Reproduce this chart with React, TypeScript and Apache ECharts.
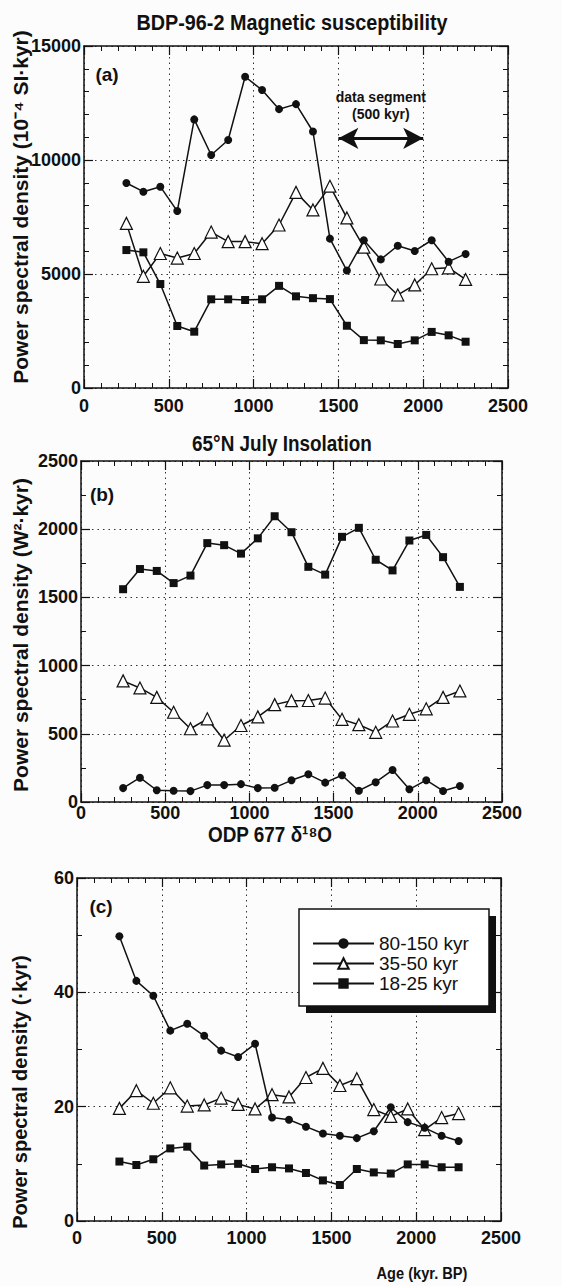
import { useEffect, useRef } from 'react';
import * as echarts from 'echarts';

const FONT = '"Liberation Sans", Arial, Helvetica, sans-serif';
const INK = '#111';

// Centre ages of the spectral windows (kyr BP)
const ages = [250, 350, 450, 550, 650, 750, 850, 950, 1050, 1150, 1250, 1350, 1450, 1550, 1650, 1750, 1850, 1950, 2050, 2150, 2250];

const bandNames = ['80-150 kyr', '35-50 kyr', '18-25 kyr'];

// (a) BDP-96-2 magnetic susceptibility
const susc80_150 = [8990, 8610, 8830, 7760, 11780, 10220, 10880, 13650, 13070, 12230, 12450, 11250, 6550, 5150, 6480, 5640, 6240, 6010, 6480, 5540, 5880];
const susc35_50 = [7220, 4900, 5900, 5700, 5900, 6840, 6420, 6420, 6330, 7150, 8580, 7810, 8850, 7460, 6180, 4780, 4080, 4520, 5230, 5270, 4760];
const susc18_25 = [6050, 5950, 4560, 2720, 2470, 3890, 3890, 3860, 3890, 4480, 4020, 3940, 3900, 2730, 2100, 2090, 1930, 2090, 2460, 2310, 2030];

// (b) 65N July insolation
const ins80_150 = [102, 178, 86, 82, 80, 124, 124, 131, 102, 105, 159, 203, 142, 196, 83, 145, 234, 93, 160, 81, 117];
const ins35_50 = [888, 836, 767, 658, 537, 610, 453, 561, 624, 714, 743, 744, 762, 606, 567, 511, 594, 643, 683, 767, 814];
const ins18_25 = [1560, 1708, 1694, 1605, 1660, 1898, 1883, 1821, 1933, 2095, 1978, 1724, 1667, 1944, 2010, 1776, 1698, 1917, 1958, 1795, 1577];

// (c) ODP 677 oxygen isotopes
const o18_80_150 = [49.8, 42.0, 39.4, 33.3, 34.5, 32.4, 29.8, 28.7, 31.0, 18.1, 17.7, 16.5, 15.3, 14.9, 14.5, 15.7, 19.9, 17.3, 16.3, 14.9, 14.0];
const o18_35_50 = [19.7, 22.8, 20.6, 23.3, 20.1, 20.3, 21.5, 20.4, 19.6, 22.1, 21.7, 25.1, 26.7, 23.7, 24.9, 19.5, 18.3, 19.6, 16.0, 18.1, 18.8];
const o18_18_25 = [10.4, 9.8, 10.8, 12.7, 13.0, 9.7, 9.9, 10.0, 9.1, 9.4, 9.2, 8.4, 7.1, 6.3, 9.1, 8.5, 8.3, 9.9, 9.9, 9.4, 9.4];

// Length of one analysed data segment, drawn as a double arrow in (a)
const segmentSpan = [1500, 2000];
const segmentLevel = 10950;

const plain = (v: number) => String(v);
const labelStyle = { color: INK, fontFamily: FONT, fontSize: 18, fontWeight: 'bold' as const, formatter: plain };

function xAxisPair(gridIndex: number, labelMargin: number) {
  const base = {
    type: 'value' as const,
    gridIndex,
    min: 0,
    max: 2500,
    interval: 500,
    axisLine: { show: true, onZero: false, lineStyle: { color: INK, width: 1.5 } },
    axisTick: { show: true, inside: true, length: 9, lineStyle: { color: INK, width: 1.2 } },
    minorTick: { show: true, splitNumber: 5, length: 5, lineStyle: { color: INK, width: 1 } },
  };
  return [
    {
      ...base,
      position: 'bottom' as const,
      axisLabel: { ...labelStyle, margin: labelMargin },
      splitLine: { show: true, lineStyle: { color: '#333', width: 1, type: [1.5, 4] } },
    },
    {
      ...base,
      position: 'top' as const,
      axisLabel: { show: false },
      splitLine: { show: false },
    },
  ];
}

function yAxisPair(gridIndex: number, max: number, interval: number, minorSplit: number) {
  const base = {
    type: 'value' as const,
    gridIndex,
    min: 0,
    max,
    interval,
    axisLine: { show: true, onZero: false, lineStyle: { color: INK, width: 1.5 } },
    axisTick: { show: true, inside: true, length: 9, lineStyle: { color: INK, width: 1.2 } },
    minorTick: { show: true, splitNumber: minorSplit, length: 5, lineStyle: { color: INK, width: 1 } },
  };
  return [
    {
      ...base,
      position: 'left' as const,
      axisLabel: { ...labelStyle, margin: 3 },
      splitLine: { show: true, lineStyle: { color: '#333', width: 1, type: [1.5, 4] } },
    },
    {
      ...base,
      position: 'right' as const,
      axisLabel: { show: false },
      splitLine: { show: false },
    },
  ];
}

function bandSeries(axisIndex: number, values: number[][]) {
  const styles = [
    { symbol: 'circle', symbolSize: 8, itemStyle: { color: INK } },
    { symbol: 'triangle', symbolSize: 12, itemStyle: { color: '#fff', borderColor: INK, borderWidth: 1.2 } },
    { symbol: 'rect', symbolSize: 8, itemStyle: { color: INK } },
  ];
  return values.map((vals, k) => ({
    type: 'line' as const,
    name: bandNames[k],
    xAxisIndex: axisIndex,
    yAxisIndex: axisIndex,
    data: ages.map((a, i) => [a, vals[i]]),
    lineStyle: { color: INK, width: 1.5 },
    ...styles[k],
    z: k === 1 ? 3 : 4,
  }));
}

function textEl(text: string, x: number, y: number, size: number, opts: Record<string, unknown> = {}) {
  return {
    type: 'text' as const,
    x,
    y,
    z: 10,
    ...opts,
    style: {
      text,
      fill: INK,
      fontFamily: FONT,
      fontSize: size,
      fontWeight: 'bold',
      align: 'center',
      verticalAlign: 'middle',
    },
  };
}

export default function App() {
  const ref = useRef<HTMLDivElement>(null);

  useEffect(() => {
    if (!ref.current) return;
    const chart = echarts.init(ref.current, undefined, { renderer: 'svg' });

    const seriesA = bandSeries(0, [susc80_150, susc35_50, susc18_25]);
    (seriesA[0] as any).markLine = {
      silent: true,
      symbol: ['arrow', 'arrow'],
      symbolSize: [16, 20],
      lineStyle: { color: INK, width: 3, type: 'solid' },
      label: {
        show: true,
        position: 'middle',
        formatter: 'data segment\n(500 kyr)',
        color: INK,
        fontFamily: FONT,
        fontSize: 14,
        fontWeight: 'bold',
        lineHeight: 17,
        distance: 16,
      },
      data: [[{ coord: [segmentSpan[0], segmentLevel] }, { coord: [segmentSpan[1], segmentLevel] }]],
    };

    const condensed = { scaleX: 0.86 };

    chart.setOption({
      animation: false,
      backgroundColor: '#fcfcfc',
      grid: [
        { left: 84, top: 46, width: 424, height: 342, show: false },
        { left: 81, top: 461, width: 421, height: 341, show: false },
        { left: 77, top: 878, width: 424, height: 343, show: false },
      ],
      xAxis: [...xAxisPair(0, 9), ...xAxisPair(1, 2), ...xAxisPair(2, 8)],
      yAxis: [...yAxisPair(0, 15000, 5000, 5), ...yAxisPair(1, 2500, 500, 2), ...yAxisPair(2, 60, 20, 2)],
      legend: {
        data: bandNames,
        orient: 'vertical',
        left: 307,
        top: 929,
        itemWidth: 61,
        itemHeight: 13,
        itemGap: 1,
        selectedMode: false,
        textStyle: { color: INK, fontFamily: FONT, fontSize: 19 },
        z: 12,
      },
      graphic: [
        // legend frame with its solid drop shadow
        { type: 'rect', z: 8, shape: { x: 306, y: 916, width: 190, height: 97 }, style: { fill: INK } },
        { type: 'rect', z: 9, shape: { x: 299, y: 909, width: 190, height: 97 }, style: { fill: '#fff', stroke: INK, lineWidth: 1.5 } },
        textEl('BDP-96-2 Magnetic susceptibility', 292, 22, 22, { scaleX: 0.9 }),
        textEl('65°N July Insolation', 282, 443, 22, condensed),
        textEl('ODP 677 δ¹⁸O', 270, 834, 22, condensed),
        textEl('(a)', 107, 74, 19),
        textEl('(b)', 102, 494, 19),
        textEl('(c)', 101, 906, 19),
        textEl('Power spectral density (10⁻⁴ SI·kyr)', 20, 207, 21, { rotation: Math.PI / 2 }),
        textEl('Power spectral density (W²·kyr)', 20, 635, 21, { rotation: Math.PI / 2 }),
        textEl('Power spectral density (·kyr)', 20, 1092, 20, { rotation: Math.PI / 2 }),
        textEl('Age (kyr. BP)', 422, 1273, 17, condensed),
      ],
      series: [
        ...seriesA,
        ...bandSeries(2, [ins80_150, ins35_50, ins18_25]),
        ...bandSeries(4, [o18_80_150, o18_35_50, o18_18_25]),
      ],
    });

    return () => chart.dispose();
  }, []);

  return <div ref={ref} style={{ position: 'absolute', left: 0, top: 0, width: 562, height: 1286 }} />;
}
